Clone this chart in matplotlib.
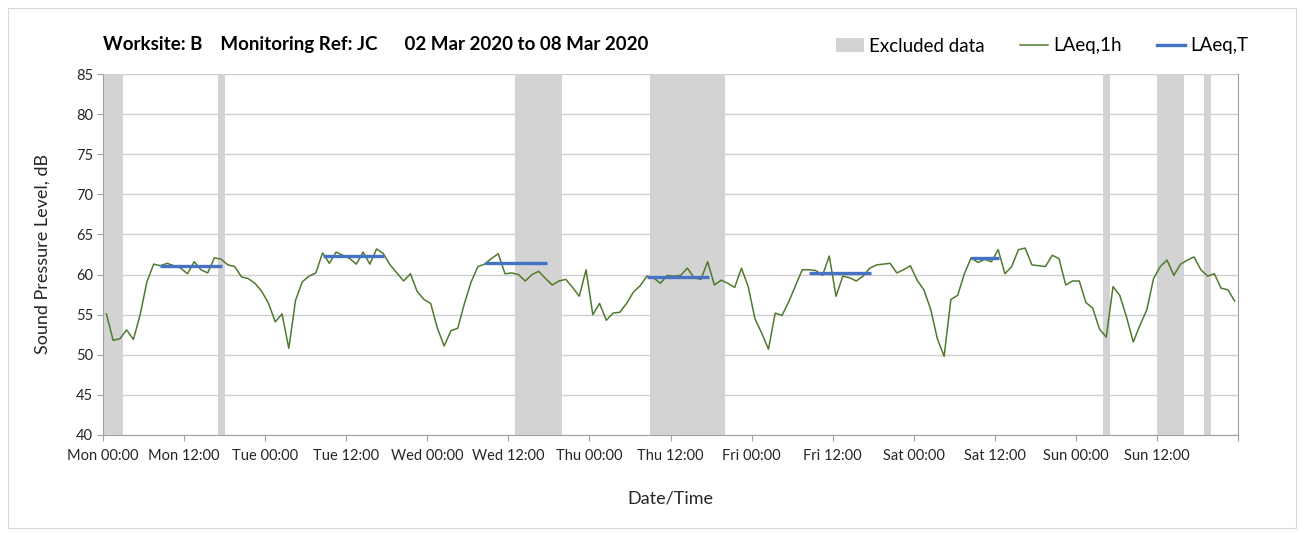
import numpy as np
import pandas as pd
import matplotlib
matplotlib.use("Agg")
import matplotlib.pyplot as plt
import matplotlib.dates as mdates
from matplotlib.patches import Patch, Rectangle
from matplotlib.lines import Line2D

plt.rcParams['font.family'] = ['Lato', 'DejaVu Sans']

# ---- data ----
start_time = "2020-03-02 00:30"
mon = [55.1, 51.8, 52.0, 53.1, 51.9, 55.0, 59.1, 61.3, 61.1, 61.4, 61.1, 60.8,
       60.1, 61.6, 60.6, 60.2, 62.1, 61.9, 61.2, 61.0, 59.7, 59.5, 58.9, 57.9]
tue = [56.4, 54.1, 55.1, 50.8, 56.8, 59.1, 59.8, 60.2, 62.7, 61.4, 62.8, 62.4,
       62.0, 61.3, 62.8, 61.3, 63.2, 62.6, 61.2, 60.2, 59.2, 60.1, 57.9, 56.9]
wed = [56.4, 53.3, 51.1, 53.0, 53.3, 56.4, 59.1, 61.0, 61.3, 62.0, 62.6, 60.1,
       60.2, 60.0, 59.2, 60.0, 60.4, 59.5, 58.7, 59.2, 59.4, 58.4, 57.3, 60.6]
thu = [55.0, 56.4, 54.3, 55.2, 55.3, 56.4, 57.8, 58.6, 59.8, 59.6, 58.9, 59.9,
       59.8, 59.9, 60.8, 59.6, 59.4, 61.6, 58.7, 59.3, 58.9, 58.4, 60.8, 58.5]
fri = [54.5, 52.7, 50.7, 55.2, 54.9, 56.6, 58.6, 60.6, 60.6, 60.5, 59.9, 62.3,
       57.3, 59.8, 59.6, 59.2, 59.8, 60.8, 61.2, 61.3, 61.4, 60.2, 60.6, 61.1]
sat = [59.3, 58.1, 55.7, 52.0, 49.8, 56.9, 57.4, 60.1, 62.1, 61.5, 61.9, 61.6,
       63.1, 60.1, 61.0, 63.1, 63.3, 61.2, 61.1, 61.0, 62.4, 62.0, 58.7, 59.2]
sun = [59.2, 56.5, 55.8, 53.2, 52.2, 58.5, 57.4, 54.7, 51.6, 53.7, 55.6, 59.5,
       61.0, 61.8, 59.9, 61.3, 61.8, 62.2, 60.6, 59.8, 60.1, 58.3, 58.1, 56.7]

excluded = [("2020-03-02 00:00", "2020-03-02 03:00"),
            ("2020-03-02 17:00", "2020-03-02 18:00"),
            ("2020-03-04 13:00", "2020-03-04 20:00"),
            ("2020-03-05 09:00", "2020-03-05 20:00"),
            ("2020-03-08 04:00", "2020-03-08 05:00"),
            ("2020-03-08 12:00", "2020-03-08 16:00"),
            ("2020-03-08 19:00", "2020-03-08 20:00")]

laeqT_start = ["2020-03-02 08:30", "2020-03-03 08:30", "2020-03-04 08:30",
               "2020-03-05 08:30", "2020-03-06 08:30", "2020-03-07 08:30"]
laeqT_end = ["2020-03-02 17:40", "2020-03-03 17:40", "2020-03-04 17:40",
             "2020-03-05 17:40", "2020-03-06 17:40", "2020-03-07 12:40"]
laeqT_val = [61.1, 62.3, 61.4, 59.7, 60.2, 62.1]

title = "Worksite: B    Monitoring Ref: JC      02 Mar 2020 to 08 Mar 2020"

# ---- build ----
laeq1h = mon + tue + wed + thu + fri + sat + sun
times = pd.date_range(start_time, periods=len(laeq1h), freq="h")

GREEN = "#4F7A2E"
BLUE = "#4472C4"
GREY = "#D3D3D3"
GRID = "#CFCFCF"
VGRID = "#E0E0E0"
AXIS = "#A0A0A0"

fig = plt.figure(figsize=(13.01, 5.33), dpi=100)
fig.patches.append(Rectangle((0.006, 0.01), 0.99, 0.975, transform=fig.transFigure,
                             fill=False, edgecolor="#D9D9D9", linewidth=0.8))
ax = fig.add_axes([103 / 1301, 1 - 435 / 533, (1238 - 103) / 1301, (435 - 74) / 533])

for s, e in excluded:
    ax.axvspan(pd.Timestamp(s), pd.Timestamp(e), color=GREY, lw=0, zorder=1)

ax.plot(times, laeq1h, color=GREEN, lw=1.1, zorder=3)
for s, e, v in zip(laeqT_start, laeqT_end, laeqT_val):
    ax.plot([pd.Timestamp(s), pd.Timestamp(e)], [v, v], color=BLUE, lw=2.4,
            solid_capstyle="butt", zorder=4)

x0 = pd.Timestamp("2020-03-02 00:00")
x1 = pd.Timestamp("2020-03-09 00:00")
ax.set_xlim(x0, x1)
ax.set_ylim(40, 85)
ax.set_yticks(np.arange(40, 86, 5))

ax.xaxis.set_major_locator(mdates.HourLocator(byhour=[0, 12]))
ax.xaxis.set_minor_locator(mdates.DayLocator())
ax.grid(axis="y", color=GRID, lw=1.0, zorder=0)
ax.grid(axis="x", which="minor", color=VGRID, lw=1.0, zorder=0)
ax.set_axisbelow(True)

ax.tick_params(axis="x", which="major", length=4, color=AXIS, labelsize=10.5,
               labelcolor="#262626", pad=6)
ax.tick_params(axis="x", which="minor", length=0)
ax.tick_params(axis="y", length=4, color=AXIS, labelsize=10.5, labelcolor="#262626", pad=3)
ax.spines["top"].set_visible(False)
for sp in ["bottom", "left", "right"]:
    ax.spines[sp].set_color(AXIS)

fig.canvas.draw()
ticks = ax.get_xticks()
ax.set_xticks(ticks)
ax.set_xticklabels([mdates.num2date(t).strftime("%a %H:%M") if t < mdates.date2num(x1) - 0.01 else ""
                    for t in ticks])

ax.set_ylabel("Sound Pressure Level, dB", fontsize=13, color="#262626", labelpad=18)
ax.set_xlabel("Date/Time", fontsize=13, color="#262626", labelpad=20)

fig.text(103 / 1301, 1 - 45 / 533, title, fontsize=13.5, fontweight="bold",
         ha="left", va="center", color="#000000")

handles = [Patch(facecolor=GREY, edgecolor="none"),
           Line2D([0], [0], color=GREEN, lw=1.1),
           Line2D([0], [0], color=BLUE, lw=2.4)]
fig.legend(handles, ["Excluded data", "LAeq,1h", "LAeq,T"], loc="center right",
           bbox_to_anchor=(1248 / 1301, 1 - 46 / 533), ncol=3, frameon=False,
           fontsize=13.5, handlelength=1.5, handletextpad=0.25, columnspacing=1.9,
           borderpad=0, borderaxespad=0)

fig.savefig("out.png", dpi=100)
